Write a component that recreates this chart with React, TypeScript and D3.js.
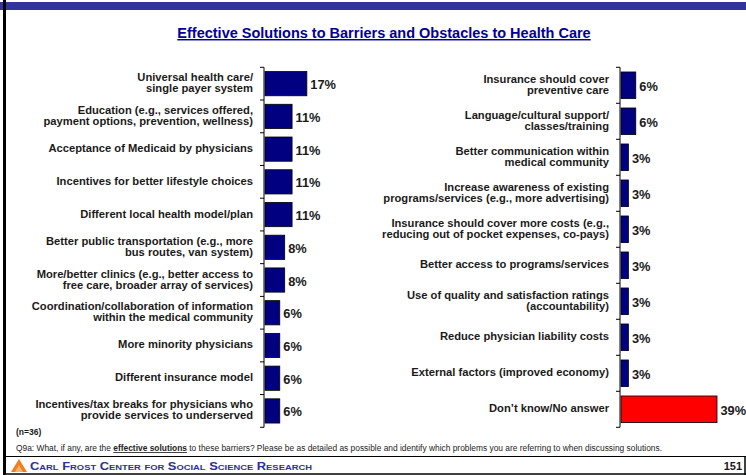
import React from "react";
import * as d3 from "d3";

const leftCategories = [
  "Universal health care/\nsingle payer system",
  "Education (e.g., services offered,\npayment options, prevention, wellness)",
  "Acceptance of Medicaid by physicians",
  "Incentives for better lifestyle choices",
  "Different local health model/plan",
  "Better public transportation (e.g., more\nbus routes, van system)",
  "More/better clinics (e.g., better access to\nfree care, broader array of services)",
  "Coordination/collaboration of information\nwithin the medical community",
  "More minority physicians",
  "Different insurance model",
  "Incentives/tax breaks for physicians who\nprovide services to underserved",
];
const leftValues = [17, 11, 11, 11, 11, 8, 8, 6, 6, 6, 6];

const rightCategories = [
  "Insurance should cover\npreventive care",
  "Language/cultural support/\nclasses/training",
  "Better communication within\nmedical community",
  "Increase awareness of existing\nprograms/services (e.g., more advertising)",
  "Insurance should cover more costs (e.g.,\nreducing out of pocket expenses, co-pays)",
  "Better access to programs/services",
  "Use of quality and satisfaction ratings\n(accountability)",
  "Reduce physician liability costs",
  "External factors (improved economy)",
  "Don\u2019t know/No answer",
];
const rightValues = [6, 6, 3, 3, 3, 3, 3, 3, 3, 39];
const rightHighlight = [false, false, false, false, false, false, false, false, false, true];

const titleText = "Effective Solutions to Barriers and Obstacles to Health Care";
const sampleNote = "(n=36)";
const footerOrg = "Carl Frost Center for Social Science Research";
const pageNumber = "151";

const FONT = "'Liberation Sans', Arial, Helvetica, sans-serif";
const NAVY = "#000080";
const TEXT = "#1a1a1a";

function Panel({ categories, values, highlight, axisX, top, bottom }: any) {
  const y = d3
    .scaleBand<number>()
    .domain(d3.range(categories.length))
    .range([top, bottom])
    .paddingInner(0.26)
    .paddingOuter(0.13);
  const x = d3.scaleLinear().domain([0, 39]).range([axisX + 1, axisX + 1 + 96]);
  const step = y.step();
  const boundaries = d3.range(categories.length + 1).map((i) => top + i * step);
  return (
    <g>
      {categories.map((c: string, i: number) => {
        const lines = c.split("\n");
        const cy = (y(i) as number) + y.bandwidth() / 2;
        const lh = 11;
        const y0 = cy - ((lines.length - 1) * lh) / 2 - 1;
        const w = x(values[i]) - x(0);
        return (
          <g key={i}>
            <rect
              x={x(0)}
              y={y(i)}
              width={w}
              height={y.bandwidth()}
              fill={highlight && highlight[i] ? "#ff0000" : NAVY}
              stroke="#000"
              strokeWidth={0.8}
            />
            <text
              x={axisX - 11}
              y={y0}
              textAnchor="end"
              fontFamily={FONT}
              fontWeight="bold"
              fontSize={11.2}
              fill={TEXT}
            >
              {lines.map((l, j) => (
                <tspan key={j} x={axisX - 11} y={y0 + j * lh} dominantBaseline="central">
                  {l}
                </tspan>
              ))}
            </text>
            <text
              x={x(values[i]) + 3.5}
              y={cy + 1}
              dominantBaseline="central"
              fontFamily={FONT}
              fontWeight="bold"
              fontSize={12.8}
              fill={TEXT}
            >
              {values[i] + "%"}
            </text>
          </g>
        );
      })}
      <line x1={axisX} x2={axisX} y1={top} y2={bottom} stroke="#000" strokeWidth={1} />
      {boundaries.map((b, i) => (
        <line key={i} x1={axisX - 4} x2={axisX} y1={b} y2={b} stroke="#000" strokeWidth={1} />
      ))}
    </g>
  );
}

export default function App() {
  const W = 746;
  const H = 475;
  return (
    <svg
      width={W}
      height={H}
      style={{ position: "absolute", left: 0, top: 0, background: "#fff" }}
    >
      <rect x={0} y={0} width={W} height={H} fill="#fff" />
      {/* top band */}
      <rect x={0} y={2} width={W} height={8} fill="#333399" />
      {/* left frame */}
      <rect x={3} y={0} width={3} height={H} fill="#000" />
      {/* title */}
      <text
        x={384}
        y={38}
        textAnchor="middle"
        fontFamily={FONT}
        fontWeight="bold"
        fontSize={14.5}
        fill="#000099"
        textDecoration="underline"
      >
        {titleText}
      </text>
      <Panel categories={leftCategories} values={leftValues} axisX={264} top={67.3} bottom={427.3} />
      <Panel
        categories={rightCategories}
        values={rightValues}
        highlight={rightHighlight}
        axisX={620}
        top={67.3}
        bottom={427.3}
      />
      <text x={16} y={435} fontFamily={FONT} fontWeight="bold" fontSize={8.5} fill={TEXT}>
        {sampleNote}
      </text>
      <text
        x={16}
        y={451}
        fontFamily={FONT}
        fontSize={8.5}
        fill="#222"
        textLength={646}
        lengthAdjust="spacingAndGlyphs"
      >
        Q9a: What, if any, are the{" "}
        <tspan fontWeight="bold" textDecoration="underline">
          effective solutions
        </tspan>{" "}
        to these barriers? Please be as detailed as possible and identify which problems you are referring to
        when discussing solutions.
      </text>
      <line x1={5} x2={W} y1={456.5} y2={456.5} stroke="#000" strokeWidth={1} />
      {/* logo */}
      <polygon points="11,472 19,459 27,472" fill="#f47c20" />
      <polygon points="15,472 19,465 23,472" fill="#fbb26a" />
      <text
        x={30}
        y={470}
        fontFamily={FONT}
        fontWeight="bold"
        fontSize={11}
        fill="#2e3192"
        style={{ fontVariant: "small-caps" }}
        textLength={282}
        lengthAdjust="spacingAndGlyphs"
      >
        {footerOrg}
      </text>
      <text x={742} y={470} textAnchor="end" fontFamily={FONT} fontWeight="bold" fontSize={11} fill={TEXT}>
        {pageNumber}
      </text>
      <line x1={5} x2={W} y1={474} y2={474} stroke="#000" strokeWidth={1.5} />
      <line x1={745} x2={745} y1={456} y2={H} stroke="#000" strokeWidth={1.5} />
    </svg>
  );
}
